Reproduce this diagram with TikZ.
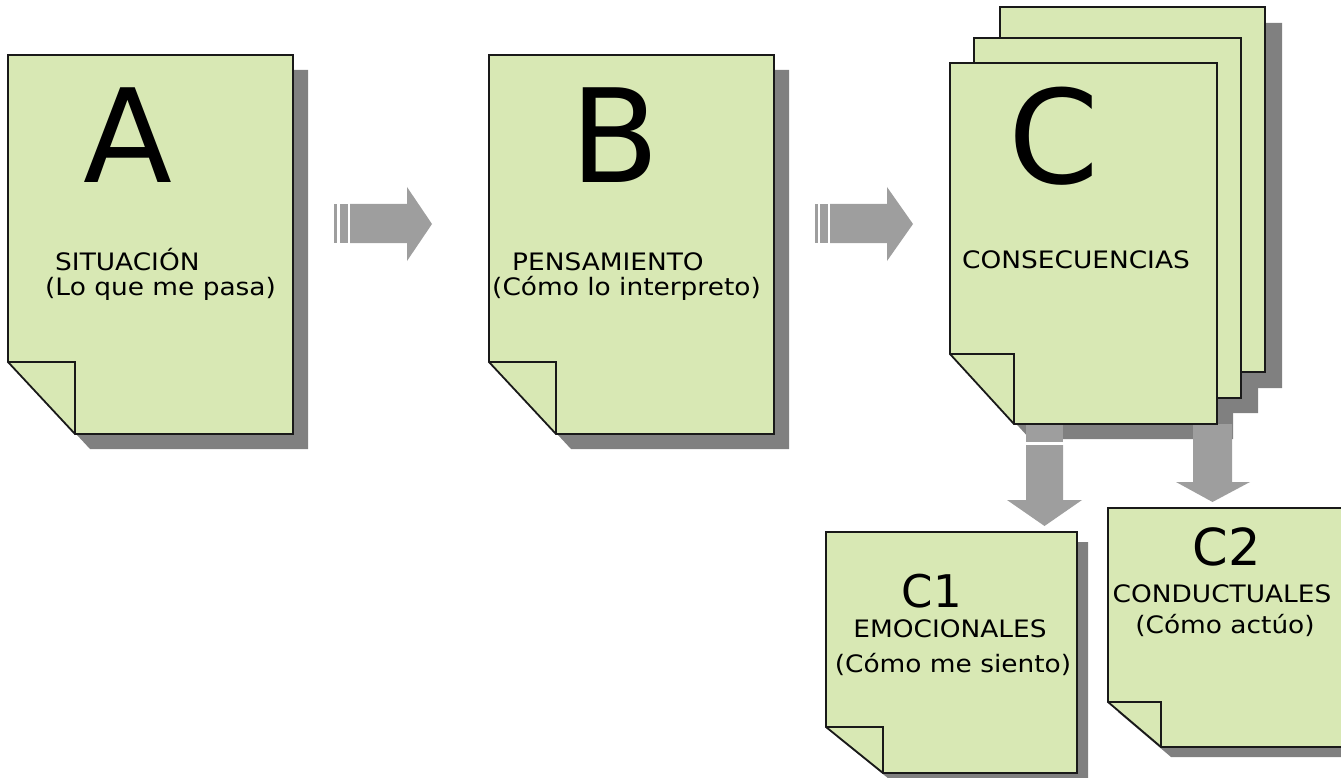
\documentclass[tikz,border=0pt]{standalone}
\usepackage{fontspec}
\setmainfont{DejaVu Sans}
\newfontfamily\lblfont[FakeStretch=1.1]{DejaVu Sans}
\definecolor{pagegreen}{HTML}{D8E8B4}
\definecolor{shadowgray}{HTML}{808080}
\definecolor{arrowgray}{HTML}{9E9E9E}
\tikzset{
  pageline/.style={draw=black!90, line width=1.8pt, line join=miter},
  pagefill/.style={fill=pagegreen},
  shadowfill/.style={fill=shadowgray},
  arrowfill/.style={fill=arrowgray, draw=none},
  bigletter/.style={inner sep=0pt, anchor=base, font=\fontsize{130}{130}\selectfont},
  midletter/.style={inner sep=0pt, anchor=base},
  lbl/.style={inner sep=0pt, font=\lblfont\fontsize{24}{26}\selectfont},
}
% #1 left, #2 top, #3 right, #4 bottom, #5 fold width, #6 fold height, #7 dx, #8 dy
\newcommand\pageshadow[8]{%
  \fill[shadowfill] ({#1+#7},{#2+#8}) -- ({#3+#7},{#2+#8}) -- ({#3+#7},{#4+#8})
    -- ({#1+#5+#7},{#4+#8}) -- ({#1+#7},{#4-#6+#8}) -- cycle;}
\newcommand\pagebody[6]{%
  \filldraw[pagefill, pageline] (#1,#2) -- (#3,#2) -- (#3,#4) -- ({#1+#5},#4)
    -- (#1,{#4-#6}) -- cycle;
  \draw[pageline] (#1,{#4-#6}) -- ({#1+#5},{#4-#6}) -- ({#1+#5},#4);}
\begin{document}
\begin{tikzpicture}[x=1pt, y=-1pt]
\useasboundingbox (0,0) rectangle (1341,778);
\clip (0,0) rectangle (1341,778);

% ---------- shadows ----------
\pageshadow{8}{55}{293}{434}{67}{72}{15}{15}
\pageshadow{489}{55}{774}{434}{67}{72}{15}{15}
\pageshadow{1000}{7}{1265}{372}{64}{70}{17}{16}
\pageshadow{974}{38}{1241}{398}{64}{70}{17}{15}
\pageshadow{950}{63}{1217}{424}{64}{70}{16}{15}
\pageshadow{826}{532}{1077}{773}{57}{46}{11}{10}
\pageshadow{1108}{508}{1360}{747}{53}{45}{10}{10}

% ---------- horizontal block arrows ----------
\fill[arrowfill] (334,204) rectangle (337,243);
\fill[arrowfill] (340,204) rectangle (348,243);
\fill[arrowfill] (350,204) -- (407,204) -- (407,187) -- (432,224) -- (407,261) -- (407,243) -- (350,243) -- cycle;

\fill[arrowfill] (815,204) rectangle (818,243);
\fill[arrowfill] (820,204) rectangle (828,243);
\fill[arrowfill] (830,204) -- (887,204) -- (887,187) -- (913,224) -- (887,261) -- (887,243) -- (830,243) -- cycle;

% ---------- down block arrows ----------
\fill[arrowfill] (1026,424) rectangle (1063,442);
\fill[arrowfill] (1026,445) -- (1063,445) -- (1063,500) -- (1082,500) -- (1044.5,526) -- (1007,500) -- (1026,500) -- cycle;
\fill[arrowfill] (1193,424) -- (1232,424) -- (1232,482) -- (1250,482) -- (1212.5,502) -- (1176,482) -- (1193,482) -- cycle;

% ---------- pages ----------
\pagebody{8}{55}{293}{434}{67}{72}
\pagebody{489}{55}{774}{434}{67}{72}
\pagebody{1000}{7}{1265}{372}{64}{70}
\pagebody{974}{38}{1241}{398}{64}{70}
\pagebody{950}{63}{1217}{424}{64}{70}
\pagebody{826}{532}{1077}{773}{57}{46}
\pagebody{1108}{508}{1360}{747}{53}{45}

% ---------- texts ----------
\node[bigletter] (A) at (128,183) {A};
\node[lbl, anchor=base west] (sit) at (55,270) {SITUACIÓN};
\node[lbl, anchor=base west] (sitd) at (45,295) {(Lo que me pasa)};

\node[bigletter] (B) at (615,183) {B};
\node[lbl, anchor=base west] (pen) at (512,270) {PENSAMIENTO};
\node[lbl, anchor=base west] (pend) at (492,295) {(Cómo lo interpreto)};

\node[bigletter] (C) at (1054,184) {C};
\node[lbl, anchor=base west] (con) at (962,269) {CONSECUENCIAS};

\node[midletter, font=\fontsize{45}{45}\selectfont] (C1) at (932,607) {C1};
\node[lbl, anchor=base] (emo) at (950,637) {EMOCIONALES};
\node[lbl, anchor=base] (emod) at (953,672) {(Cómo me siento)};

\node[midletter, font=\fontsize{51}{51}\selectfont] (C2) at (1227,565) {C2};
\node[lbl, anchor=base] (cond) at (1222,602) {CONDUCTUALES};
\node[lbl, anchor=base] (condd) at (1225,633) {(Cómo actúo)};
\end{tikzpicture}
\end{document}
